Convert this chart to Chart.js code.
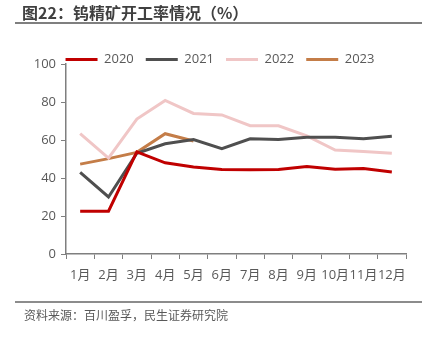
<!DOCTYPE html>
<html><head><meta charset="utf-8">
<script src="https://cdn.jsdelivr.net/npm/chart.js@4.4.0/dist/chart.umd.min.js"></script>
<style>
html,body{margin:0;padding:0;background:#fff;}
#wrap{position:relative;width:429px;height:337px;overflow:hidden;font-family:"Noto Sans CJK SC","Noto Sans",sans-serif;}
#title{position:absolute;left:22px;top:1px;font-size:16px;font-weight:bold;color:#404040;line-height:22px;white-space:nowrap;}
#tline{position:absolute;left:15px;top:22px;width:407px;height:2px;background:#7f7f7f;}
#fline{position:absolute;left:15px;top:301px;width:407px;height:2px;background:#8c8c8c;}
#src{position:absolute;left:24px;top:306px;font-size:12px;color:#595959;line-height:18px;white-space:nowrap;}
canvas{position:absolute;left:0;top:0;}
</style></head>
<body><div id="wrap">
<canvas id="c" width="429" height="337"></canvas>
<div id="title">图22：钨精矿开工率情况（%）</div>
<div id="tline"></div>
<div id="fline"></div>
<div id="src">资料来源：百川盈孚，民生证券研究院</div>
</div>
<script>
const categories = ["1月","2月","3月","4月","5月","6月","7月","8月","9月","10月","11月","12月"];
const s2020 = [22.5, 22.5, 53.8, 48, 45.8, 44.5, 44.4, 44.5, 46, 44.6, 45, 43.2];
const s2021 = [43, 30, 53, 58, 60.2, 55.4, 60.6, 60.3, 61.4, 61.5, 60.7, 62];
const s2022 = [63.4, 50.5, 71, 80.8, 74, 73.2, 67.5, 67.5, 62.2, 54.7, 54, 53];
const s2023 = [47.3, 50.2, 53.5, 63.3, 59.5];
const yTicks = [0, 20, 40, 60, 80, 100];
const names = ["2020","2021","2022","2023"];
const colors = ["#C00000","#4F4F4F","#F0C6C6","#C47D48"];
const seriesList = [s2020, s2021, s2022, s2023];

const font = {family:"'Open Sans','Noto Sans CJK SC',sans-serif", size:13};
new Chart(document.getElementById('c'), {
  type:'line',
  data:{
    labels:categories,
    datasets: seriesList.map((d,i)=>({
      label:names[i], data:d, borderColor:colors[i], backgroundColor:colors[i],
      borderWidth:3, pointRadius:0, tension:0, fill:false
    }))
  },
  options:{
    responsive:false, animation:false,
    layout:{padding:{left:34, right:23, top:41, bottom:43}},
    plugins:{
      tooltip:{enabled:false},
      legend:{
        position:'top', align:'center', maxHeight:23,
        labels:{usePointStyle:true, pointStyle:'line', pointStyleWidth:32, padding:12, color:'#595959', font:font}
      }
    },
    scales:{
      x:{
        offset:true,
        grid:{display:true, drawOnChartArea:false, drawTicks:true, tickLength:5, color:'#7f7f7f', offset:true},
        border:{color:'#7f7f7f', width:1.5},
        ticks:{color:'#595959', font:font, padding:8, maxRotation:0, autoSkip:false},
        afterFit:(s)=>{s.height=40;}
      },
      y:{
        min:0, max:100,
        afterBuildTicks:(s)=>{s.ticks = yTicks.map(v=>({value:v}));},
        grid:{display:true, drawOnChartArea:false, drawTicks:true, tickLength:5, color:'#7f7f7f'},
        border:{color:'#7f7f7f', width:1.5},
        ticks:{color:'#595959', font:font, padding:5},
        afterFit:(s)=>{s.width=32;}
      }
    }
  }
});
</script>
</body></html>
